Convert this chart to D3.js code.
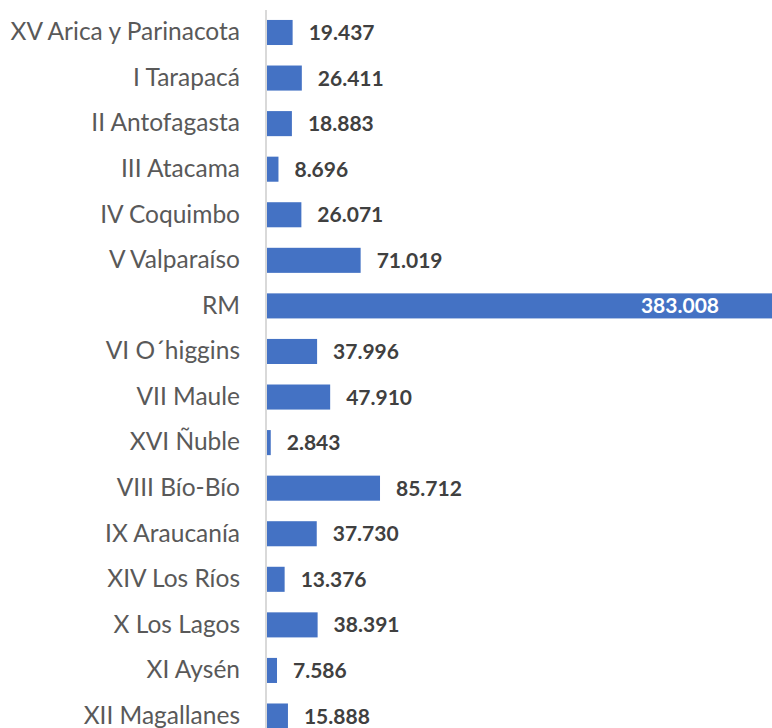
<!DOCTYPE html>
<html>
<head>
<meta charset="utf-8">
<script src="https://cdn.jsdelivr.net/npm/d3@7"></script>
<style>
  body { margin: 0; background: #fff; }
  text { font-family: Lato, "Open Sans", sans-serif; }
</style>
</head>
<body>
<svg id="chart"></svg>
<script>
var regions = ["XV Arica y Parinacota", "I Tarapacá", "II Antofagasta", "III Atacama",
  "IV Coquimbo", "V Valparaíso", "RM", "VI O´higgins", "VII Maule", "XVI Ñuble",
  "VIII Bío-Bío", "IX Araucanía", "XIV Los Ríos", "X Los Lagos", "XI Aysén", "XII Magallanes"];
var values = [19.437, 26.411, 18.883, 8.696, 26.071, 71.019, 383.008, 37.996, 47.910,
  2.843, 85.712, 37.730, 13.376, 38.391, 7.586, 15.888];
// labels as printed (thousands separator style)
var valueLabels = values.map(v => d3.format(".3f")(v));

function drawChart() {
  var width = 772;
  var height = 728;

  var svg = d3.select("#chart")
              .attr("width", width)
              .attr("height", height);

  var data = regions.map((r, i) => ({ region: r, value: values[i], label: valueLabels[i] }));

  var x = d3.scaleLinear()
            .domain([0, d3.max(values)])
            .range([267, width]);

  var y = d3.scaleBand()
            .domain(regions)
            .range([9.7, 738.8])
            .paddingInner(0.45)
            .paddingOuter(0.225);

  // bars
  svg.selectAll(".bar")
    .data(data)
    .enter()
    .append("rect")
      .classed("bar", true)
      .attr("x", x(0))
      .attr("y", d => y(d.region))
      .attr("width", d => x(d.value) - x(0))
      .attr("height", y.bandwidth())
      .attr("fill", "#4472C4");

  // category axis
  var axis = svg.append("g")
                .attr("transform", "translate(266,0)")
                .call(d3.axisLeft(y).tickSize(0).tickPadding(26));
  axis.select(".domain")
      .attr("d", "M0,10V" + height)
      .attr("stroke", "#d9d9d9")
      .attr("stroke-width", 2);
  axis.selectAll("text")
      .attr("fill", "#595959")
      .style("font-size", "24.5px")
      .style("font-family", "Lato, 'Open Sans', sans-serif");

  // value labels
  var big = d3.max(values);
  svg.selectAll(".value")
    .data(data)
    .enter()
    .append("text")
      .classed("value", true)
      .attr("x", d => d.value === big ? x(d.value) - 53 : x(d.value) + 16)
      .attr("y", d => y(d.region) + y.bandwidth() / 2)
      .attr("dy", "0.36em")
      .attr("text-anchor", d => d.value === big ? "end" : "start")
      .attr("font-size", "21px")
      .attr("font-weight", "bold")
      .attr("fill", d => d.value === big ? "#ffffff" : "#404040")
      .text(d => d.label);
}

drawChart();
</script>
</body>
</html>
